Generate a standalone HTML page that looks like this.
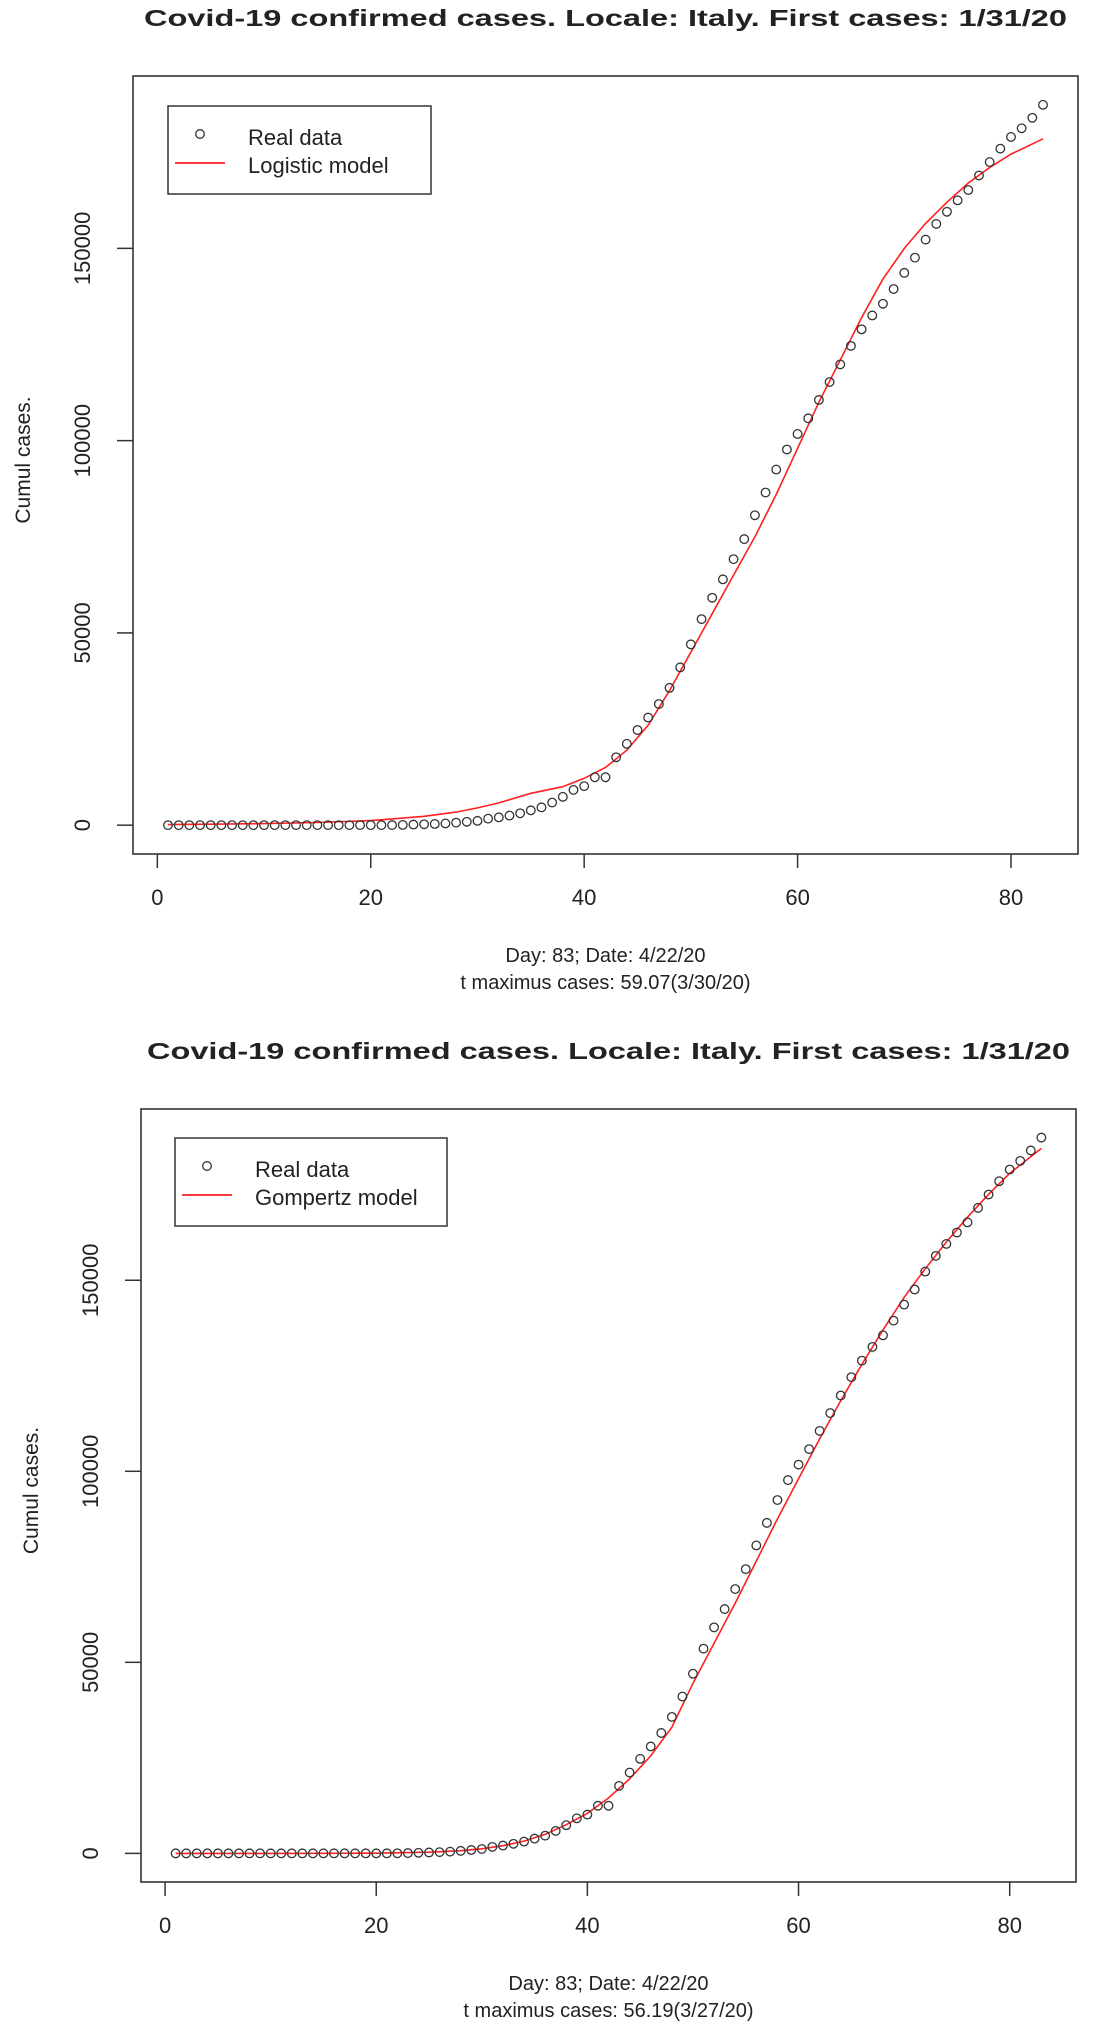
<!DOCTYPE html>
<html><head><meta charset="utf-8"><style>
html,body{margin:0;padding:0;background:#fff;}
svg{display:block;}
text{font-family:"Liberation Sans",Arial,sans-serif;fill:#222;}
</style></head><body>
<svg id="svg" width="1093" height="2042" viewBox="0 0 1093 2042" xmlns="http://www.w3.org/2000/svg"></svg>
<script>
const days = Array.from({length:83},(_,i)=>i+1);
const realCases = [2,2,2,2,2,2,3,3,3,3,3,3,3,3,3,3,3,3,3,3,3,20,62,155,229,322,453,655,888,1128,
1694,2036,2502,3089,3858,4636,5883,7375,9172,10149,12462,12462,17660,21157,24747,27980,31506,35713,41035,47021,
53578,59138,63927,69176,74386,80589,86498,92472,97689,101739,105792,110574,115242,119827,124632,128948,132547,135586,139422,143626,
147577,152271,156363,159516,162488,165155,168941,172434,175925,178972,181228,183957,187327];
const logisticDays = [1,5,10,15,20,25,28,30,32,35,38,40,42,44,46,48,50,52,54,56,58,60,62,64,66,68,70,72,74,76,78,80,83];
const logisticVals = [150,250,400,700,1200,2300,3400,4500,5800,8300,10000,12200,15000,19500,26000,35000,45000,55000,65000,75000,86000,98000,110000,121000,132000,142000,150000,156500,162000,167000,171000,174500,178500];
const gompertzDays = [1,10,20,25,28,30,32,34,36,38,40,42,44,46,48,50,52,54,56,58,60,62,64,66,68,70,72,74,76,78,80,83];
const gompertzVals = [0,0,50,300,700,1200,2000,3200,5000,7500,10500,14500,19500,25500,33000,44500,55000,65500,76500,87500,98000,108500,118500,128000,137000,145500,153000,160000,166500,172500,178000,184500];
const xTicks = [0,20,40,60,80];
const yTicks = [0,50000,100000,150000];
const yTickLabels = ["0","50000","100000","150000"];

const NS="http://www.w3.org/2000/svg";
const svg=document.getElementById('svg');
function mk(tag,attrs,parent){const e=document.createElementNS(NS,tag);for(const k in attrs)e.setAttribute(k,attrs[k]);(parent||svg).appendChild(e);return e;}

function chart(cfg){
  const g=mk('g',{});
  
  
  const L=cfg.L,R=cfg.R,T=cfg.T,B=cfg.B;
  const xmin=1-0.04*82,xmax=83+0.04*82;
  const ymaxD=Math.max(...realCases),ymin=-0.04*ymaxD,ymax=ymaxD*1.04;
  const X=v=>L+(v-xmin)/(xmax-xmin)*(R-L);
  const Y=v=>B-(v-ymin)/(ymax-ymin)*(B-T);
  const t=mk('text',{x:(L+R)/2,y:cfg.titleY,'text-anchor':'middle','font-size':23,'font-weight':'bold',textLength:923,lengthAdjust:'spacingAndGlyphs',fill:'#111'},g);
  t.textContent='Covid-19 confirmed cases. Locale: Italy. First cases: 1/31/20';
  
  
  const box=mk('rect',{x:L,y:T,width:R-L,height:B-T,fill:'none',stroke:'#333','stroke-width':1.6},g);
  
  
  xTicks.forEach(v=>{
    const x=X(v);
    const l=mk('line',{x1:x,x2:x,y1:B,y2:B+14,stroke:'#333','stroke-width':1.5},g);
    
    
    const tx=mk('text',{x:x,y:B+51,'text-anchor':'middle','font-size':22},g);
    tx.textContent=String(v);
    
    
  });
  yTicks.forEach((v,i)=>{
    const y=Y(v);
    const l=mk('line',{x1:L-16,x2:L,y1:y,y2:y,stroke:'#333','stroke-width':1.5},g);
    
    
    const tx=mk('text',{x:0,y:0,'text-anchor':'middle','font-size':22,transform:`translate(${L-43},${y}) rotate(-90)`},g);
    tx.textContent=yTickLabels[i];
    
    
  });
  const yl=mk('text',{x:0,y:0,'text-anchor':'middle','font-size':21,transform:`translate(${L-103},${(T+B)/2-5}) rotate(-90)`},g);
  yl.textContent='Cumul cases.';
  
  
  const f1=mk('text',{x:(L+R)/2,y:B+108,'text-anchor':'middle','font-size':20},g);
  f1.textContent='Day: 83; Date: 4/22/20';
  
  
  const f2=mk('text',{x:(L+R)/2,y:B+135,'text-anchor':'middle','font-size':20},g);
  f2.textContent=cfg.tmax;
  
  
  // model line
  const pts=cfg.mDays.map((d,i)=>X(d).toFixed(1)+','+Y(cfg.mVals[i]).toFixed(1)).join(' ');
  const pl=mk('polyline',{points:pts,fill:'none',stroke:'#ff2020','stroke-width':1.6},g);
  
  
  // points
  days.forEach((d,i)=>{
    const c=mk('circle',{cx:X(d),cy:Y(realCases[i]),r:4.3,fill:'none',stroke:'#333','stroke-width':1.3},g);
    
    
  });
  // legend
  const lg=mk('g',{},g);
  
  
  mk('rect',{x:cfg.lx,y:cfg.ly,width:cfg.lw,height:88,fill:'#fff',stroke:'#333','stroke-width':1.5},lg);
  const lc=mk('circle',{cx:cfg.lx+32,cy:cfg.ly+28,r:4.3,fill:'none',stroke:'#333','stroke-width':1.3},lg);
  
  
  const ll=mk('line',{x1:cfg.lx+7,x2:cfg.lx+57,y1:cfg.ly+57,y2:cfg.ly+57,stroke:'#ff2020','stroke-width':1.8},lg);
  
  
  const t1=mk('text',{x:cfg.lx+80,y:cfg.ly+39,'font-size':22},lg);
  t1.textContent='Real data';
  
  
  const t2=mk('text',{x:cfg.lx+80,y:cfg.ly+67,'font-size':22},lg);
  t2.textContent=cfg.model;
  
  
}
chart({name:'logistic-chart',L:133,R:1078,T:76,B:854,titleY:26,lx:168,ly:106,lw:263,model:'Logistic model',mDays:logisticDays,mVals:logisticVals,tmax:'t maximus cases: 59.07(3/30/20)'});
chart({name:'gompertz-chart',L:141,R:1076,T:1109,B:1882,titleY:1059,lx:175,ly:1138,lw:272,model:'Gompertz model',mDays:gompertzDays,mVals:gompertzVals,tmax:'t maximus cases: 56.19(3/27/20)'});
</script>
</body></html>
